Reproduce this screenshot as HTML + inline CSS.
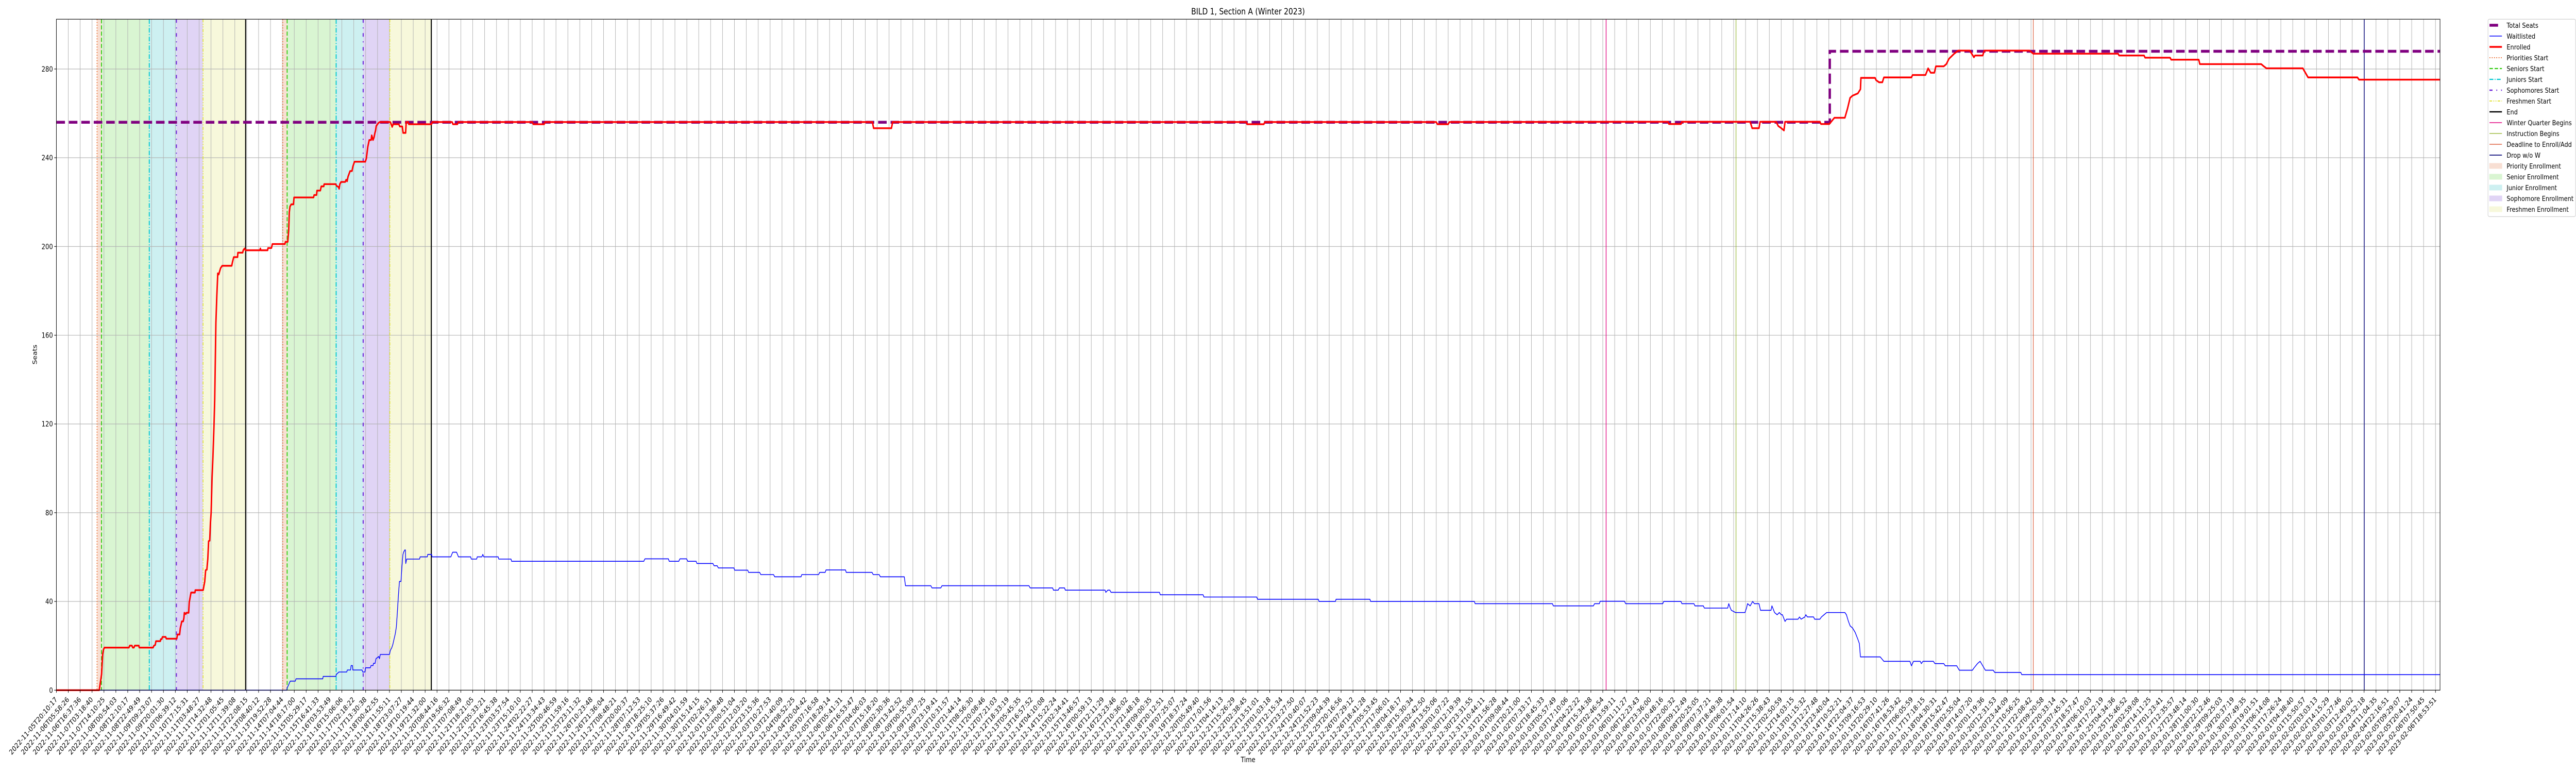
<!DOCTYPE html>
<html><head><meta charset="utf-8"><title>BILD 1, Section A (Winter 2023)</title>
<meta name="viewport" content="width=6000">
<style>
html,body{margin:0;padding:0;background:#fff;overflow:hidden;}
svg{display:block;width:100vw;height:100vh;font-family:"DejaVu Sans","Liberation Sans",sans-serif;overflow:hidden;}
</style></head>
<body>
<svg id="chart" xmlns="http://www.w3.org/2000/svg" viewBox="0 0 6000 1500" preserveAspectRatio="none">
<rect x="0" y="0" width="6000" height="1500" fill="#fff"/>
<g id="shades"></g>
<g id="grid"></g>
<g id="events"></g>
<g id="series"></g>
<g id="axes"></g>
<text x="2907" y="28" text-anchor="middle" font-size="16.7">BILD 1, Section A (Winter 2023)</text>
<text x="2907" y="1479" text-anchor="middle" font-size="13.9">Time</text>
<text transform="translate(86,688) rotate(-90)" text-anchor="middle" font-size="13.9">Seats</text>
<g id="legend"></g>
</svg>
<script>
// ---------- data (x in sample-tick units, y in seats) ----------
const yTicks = [0, 40, 80, 120, 160, 200, 240, 280];
const tickAnchorIdx = [0,1,2,3,4,5,6,7,8,9,10,11,12,13,14,15,16,17,198,199,200];
const tickAnchorLabels = ["2022-11-05T20:10:17","2022-11-06T05:58:26","2022-11-06T16:37:36","2022-11-07T03:18:40","2022-11-07T14:10:25","2022-11-08T00:54:03","2022-11-08T12:10:17","2022-11-08T22:49:49","2022-11-09T09:23:07","2022-11-09T20:01:30","2022-11-10T06:39:12","2022-11-10T17:15:31","2022-11-11T03:48:27","2022-11-11T14:32:48","2022-11-12T01:05:45","2022-11-12T11:39:08","2022-11-12T22:08:15","2022-11-13T08:40:12","2023-02-05T20:41:24","2023-02-06T07:50:45","2023-02-06T18:53:51"];

const seatsX = [0, 149.08, 149.08, 200.4];
const seatsY = [256, 256, 288, 288];

const enrolledX = [0,3.60,3.74,3.80,3.89,3.96,4.04,6.10,6.17,6.35,6.42,6.52,6.59,6.93,6.97,7.17,8.13,8.19,8.31,8.37,8.74,8.77,8.86,8.92,9.19,9.24,10.12,10.18,10.36,10.42,10.48,10.54,10.66,10.72,10.76,10.88,10.93,11.12,11.17,11.26,11.32,11.65,11.68,12.34,12.41,12.47,12.55,12.65,12.73,12.80,12.89,12.95,13.01,13.09,13.16,13.25,13.31,13.41,13.49,13.57,13.65,13.73,13.81,13.94,14.74,14.81,14.91,15.23,15.26,15.66,15.71,15.82,15.90,17.11,17.15,17.18,17.76,17.79,18.08,18.16,19.21,19.26,19.45,19.53,19.58,19.64,19.74,19.93,19.98,21.62,21.67,21.87,21.91,22.19,22.27,22.48,22.51,23.48,23.56,23.72,23.77,23.83,23.93,24.28,24.36,24.44,24.52,24.61,24.69,24.85,24.93,25.06,25.97,26.06,26.18,26.30,26.46,26.51,26.62,26.70,26.78,26.83,26.89,26.99,27.10,27.18,28.07,28.15,28.23,28.31,28.79,28.87,29.08,29.15,29.36,29.41,29.57,29.63,31.53,31.61,33.27,33.34,33.71,33.79,40.0,40.1,41.0,41.1,68.6,68.7,70.2,70.3,100.0,100.1,101.5,101.6,116.0,116.1,117.0,117.1,132.41,135.47,135.56,136.57,136.65,142.39,142.56,143.13,143.22,144.57,144.75,145.01,145.23,145.32,148.25,148.34,149.04,149.47,150.35,150.57,150.79,151.00,151.44,151.66,151.70,152.89,152.97,153.23,153.50,153.63,155.95,156.04,157.13,157.35,157.57,157.87,158.00,158.66,158.88,159.10,159.54,159.88,160.85,161.20,161.29,161.94,162.07,165.88,166.19,173.32,173.40,175.50,175.59,177.69,177.78,180.10,180.19,185.35,185.57,185.79,188.85,189.29,193.44,193.57,200.4];
const enrolledY = [0,0,4.9,7.2,16.1,18.3,19.2,19.2,20.1,20.1,19.2,19.2,20.1,20.1,19.2,19.2,19.2,20.0,20.4,22.1,22.1,23.0,23.0,24.0,24.0,23.2,23.2,25.1,25.1,28.0,29.4,31.0,31.0,32.5,34.9,34.3,34.9,34.9,39.6,42.3,44.0,44.0,45.1,45.1,47.2,48.9,54.1,54.3,59.2,67.2,67.4,75.2,80.0,96.0,104.9,119.2,130.7,165.6,178.0,187.9,187.4,188.9,190.3,191.3,191.3,193.1,195.2,195.2,197.2,197.2,198.3,199.1,198.3,198.3,199.1,198.3,198.3,199.3,199.3,201.1,201.1,202.1,202.1,207.1,215.4,218.0,219.0,219.0,222.1,222.1,223.2,223.2,225.2,225.2,227.1,227.1,228.1,228.1,227.3,226.8,226.0,228.1,229.1,229.1,230.1,229.4,231.5,232.8,234.0,234.0,236.1,238.2,238.2,239.7,244.9,248.0,248.0,250.1,248.0,249.1,251.2,252.2,254.3,255.1,255.8,256.1,256.1,255.1,253.9,255.1,255.1,254.1,254.1,251.2,251.2,256.1,256.1,255.1,255.1,256.1,256.1,255.1,255.1,256.1,256.1,255.1,255.1,256.1,256.1,253.3,253.3,256.1,256.1,255.1,255.1,256.1,256.1,255.1,255.1,256.1,256.2,256.2,255.2,255.2,256.2,256.2,253.3,253.3,256.2,256.2,254.3,253.3,252.3,256.2,256.2,255.2,255.2,258.0,258.0,262.1,267.0,268.0,269.0,270.9,276.0,276.0,275.0,274.0,274.0,276.2,276.2,277.3,277.3,280.3,278.3,278.3,281.2,281.2,282.2,284.6,286.9,288.3,288.3,285.3,286.1,286.1,288.3,288.3,286.9,286.9,286.1,286.1,285.1,285.1,284.2,284.2,282.2,282.2,281.2,280.3,280.3,276.2,276.2,275.2,275.2];

const waitX = [0,19.37,19.41,19.49,19.66,20.09,20.14,22.39,22.43,23.49,23.55,23.76,24.41,24.46,24.73,24.78,24.89,24.92,25.70,25.75,25.94,25.99,26.39,26.45,26.62,26.66,26.79,26.87,27.10,27.16,27.23,28.00,28.08,28.20,28.29,28.39,28.49,28.58,28.65,28.76,28.84,28.97,29.05,29.13,29.19,29.29,29.34,29.37,29.45,30.53,30.58,31.18,31.22,31.55,31.58,33.16,33.24,33.32,33.64,33.72,33.80,34.83,34.88,35.33,35.38,35.77,35.85,35.93,37.14,37.19,38.22,38.27,49.38,49.48,51.45,51.52,52.32,52.42,52.98,53.08,53.78,53.85,55.19,55.29,55.55,55.65,56.96,57.02,58.12,58.19,59.12,59.22,60.29,60.39,62.60,62.66,64.07,64.17,64.63,64.70,66.34,66.40,68.57,68.67,69.17,69.27,71.28,71.38,73.51,73.61,74.35,74.45,81.76,81.86,83.75,83.82,84.22,84.32,84.75,84.82,88.16,88.22,88.39,88.56,88.66,92.73,92.80,96.40,96.47,100.91,100.97,106.08,106.15,107.52,107.58,110.42,110.49,119.20,119.27,125.77,125.84,129.21,129.31,129.71,129.78,131.82,131.92,135.04,135.12,136.57,136.65,137.66,137.75,138.45,138.54,140.50,140.59,140.72,140.81,141.16,141.95,142.08,142.17,142.39,142.60,142.74,143.13,143.26,144.14,144.22,144.44,144.66,144.84,145.01,145.10,145.32,145.45,146.41,146.54,146.67,146.98,147.07,147.20,147.72,147.81,148.25,148.38,148.60,148.82,150.35,150.48,150.65,150.79,151.00,151.22,151.44,151.57,151.66,153.32,153.63,155.82,155.95,156.12,156.69,156.78,156.91,157.79,157.92,158.66,158.79,159.75,159.97,161.07,161.20,161.50,161.72,161.94,162.16,162.82,162.95,165.14,165.22,200.4];
const waitY = [0,0,1.2,2.0,4.1,4.1,5.1,5.1,6.2,6.2,7.2,8.2,8.2,9.1,9.1,11.1,11.1,9.1,9.1,8.2,8.2,10.1,10.1,11.1,11.1,12.1,12.1,14.2,15.2,14.2,16.1,16.1,18.0,19.2,20.7,23.1,25.4,28.5,33.9,43.2,49.0,49.0,55.6,61.0,62.2,63.2,63.2,57.1,59.1,59.1,60.1,60.1,61.2,61.2,60.1,60.1,61.2,62.2,62.2,61.2,60.1,60.1,59.1,59.1,60.1,60.1,61.2,60.1,60.1,59.1,59.1,58.1,58.1,59.2,59.2,58.1,58.1,59.2,59.2,58.1,58.1,57.1,57.1,56.1,56.1,55.1,55.1,54.1,54.1,53.1,53.1,52.1,52.1,51.1,51.1,52.1,52.1,53.1,53.1,54.2,54.2,53.1,53.1,52.1,52.1,51.1,51.1,47.1,47.1,46.1,46.1,47.1,47.1,46.1,46.1,45.1,45.1,46.1,46.1,45.1,45.1,44.1,45.1,45.1,44.1,44.1,43.0,43.0,42.0,42.0,41.0,41.0,40.0,40.0,41.0,41.0,40.0,40.0,39.0,39.0,38.0,38.0,39.0,39.0,40.1,40.1,39,39,40,40,39,39,38,38,37,37,39,37,36,35,35,37,39,38,40,39,39,36,36,38,35,34,35,34,34,31,32,32,33,32,33,34,33,33,32,32,33,34,35,35,34,31,29,28,26,23,21,15,15,13,13,11,13,13,12,13,13,12,12,11,11,9,9,10,12,13,11,9,9,8,8,7,7];

const eventNames = ["Priorities Start","Seniors Start","Juniors Start","Sophomores Start","Freshmen Start","End","Priorities Start","Seniors Start","Juniors Start","Sophomores Start","Freshmen Start","End","Winter Quarter Begins","Instruction Begins","Deadline to Enroll/Add","Drop w/o W"];
const eventX = [3.42,3.79,7.81,10.09,12.33,15.91,19.03,19.40,23.52,25.79,28.03,31.52,130.28,141.20,166.19,194.01];
const shadeStart = [3.42,3.79,7.81,10.09,12.33,19.03,19.40,23.52,25.79,28.03];
const shadeEnd   = [3.79,7.81,10.09,12.33,15.91,19.40,23.52,25.79,28.03,31.52];
const shadeKind  = ["priority","senior","junior","sophomore","freshmen","priority","senior","junior","sophomore","freshmen"];

const SHADE = {priority:"#f8dfd3",senior:"#d9f5d2",junior:"#cdf0f1",sophomore:"#e0d4f5",freshmen:"#f7f8db"};
const EV = {
 "Priorities Start":{c:"#ea6c30",w:2,d:"2,3.3"},
 "Seniors Start":{c:"#33cc11",w:2.2,d:"8,4"},
 "Juniors Start":{c:"#00c8d0",w:2.2,d:"9,3,2,3"},
 "Sophomores Start":{c:"#6a22d8",w:2.4,d:"7,9,2,9"},
 "Freshmen Start":{c:"#e2e43a",w:2,d:"6,3,2,3,2,3"},
 "End":{c:"#000000",w:2.4,d:""},
 "Winter Quarter Begins":{c:"#e2007e",w:1.5,d:""},
 "Instruction Begins":{c:"#8aae1a",w:1.2,d:""},
 "Deadline to Enroll/Add":{c:"#d8441c",w:1.2,d:""},
 "Drop w/o W":{c:"#2b2b8c",w:2,d:""}
};

const NS="http://www.w3.org/2000/svg";
const L=131.3, R=5683.3, T=37.3, B=1339.3, DX=27.707, PY=4.305;
const X = u => L + u*DX;
const Y = v => B - v*PY;
function mk(tag, attrs, parent){const e=document.createElementNS(NS,tag);for(const k in attrs)e.setAttribute(k,attrs[k]);parent.appendChild(e);return e;}

function pad(n){return String(n).padStart(2,"0");}
function fmt(ms){const d=new Date(ms);return d.getUTCFullYear()+"-"+pad(d.getUTCMonth()+1)+"-"+pad(d.getUTCDate())+"T"+pad(d.getUTCHours())+":"+pad(d.getUTCMinutes())+":"+pad(d.getUTCSeconds());}
const tickLabels=[];
(function(){
 const t=tickAnchorLabels.map(s=>Date.parse(s+"Z"));
 for(let i=0;i<=200;i++){
  const k=tickAnchorIdx.indexOf(i);
  if(k>=0){tickLabels.push(tickAnchorLabels[k]);continue;}
  let a=0;while(tickAnchorIdx[a+1]<i)a++;
  const i0=tickAnchorIdx[a],i1=tickAnchorIdx[a+1];
  tickLabels.push(fmt(t[a]+(t[a+1]-t[a])*(i-i0)/(i1-i0)));
 }
})();

const gS=document.getElementById("shades");
for(let i=0;i<shadeStart.length;i++){
 const r=mk("rect",{x:X(shadeStart[i]),y:T,width:X(shadeEnd[i])-X(shadeStart[i]),height:B-T,fill:SHADE[shadeKind[i]]},gS);
 
 
}
const gG=document.getElementById("grid");
for(let i=0;i<tickLabels.length;i++){
 const l=mk("line",{x1:X(i),x2:X(i),y1:T,y2:B,stroke:"#b0b0b0","stroke-width":1.1},gG);
 
 
}
for(const v of yTicks){
 const l=mk("line",{x1:L,x2:R,y1:Y(v),y2:Y(v),stroke:"#b0b0b0","stroke-width":1.1},gG);
 
 
}
const gE=document.getElementById("events");
for(let i=0;i<eventX.length;i++){
 const s=EV[eventNames[i]];
 const l=mk("line",{x1:X(eventX[i]),x2:X(eventX[i]),y1:T,y2:B,stroke:s.c,"stroke-width":s.w},gE);
 if(s.d)l.setAttribute("stroke-dasharray",s.d);
 
 
}
const gD=document.getElementById("series");
function pts(xs,ys){return xs.map((x,i)=>X(x).toFixed(2)+","+Y(ys[i]).toFixed(2)).join(" ");}
const pSeats=mk("polyline",{points:pts(seatsX,seatsY),fill:"none",stroke:"#800080","stroke-width":5.5,"stroke-dasharray":"20,9"},gD);


const pWait=mk("polyline",{points:pts(waitX,waitY),fill:"none",stroke:"#0000ff","stroke-width":1.6,"stroke-linejoin":"round"},gD);


const pEnr=mk("polyline",{points:pts(enrolledX,enrolledY),fill:"none",stroke:"#ff0000","stroke-width":3.4,"stroke-linejoin":"round"},gD);



const gA=document.getElementById("axes");
const frame=mk("rect",{x:L,y:T,width:R-L,height:B-T,fill:"none",stroke:"#000","stroke-width":1.1},gA);


for(const v of yTicks){
 const t=mk("line",{x1:L-4.9,x2:L,y1:Y(v),y2:Y(v),stroke:"#000","stroke-width":1.1},gA);
 
 
 const tx=mk("text",{x:L-8,y:Y(v)+5,"text-anchor":"end","font-size":13.9},gA);
 tx.textContent=String(v);
 
 
}
for(let i=0;i<tickLabels.length;i++){
 const x=X(i);
 const t=mk("line",{x1:x,x2:x,y1:B,y2:B+4.9,stroke:"#000","stroke-width":1.1},gA);
 
 
 const tx=mk("text",{transform:"translate("+(x+3).toFixed(2)+","+(B+19)+") rotate(-45)","text-anchor":"end","font-size":13.9},gA);
 tx.textContent=tickLabels[i];
 
 
}

const legendNames=["Total Seats","Waitlisted","Enrolled","Priorities Start","Seniors Start","Juniors Start","Sophomores Start","Freshmen Start","End","Winter Quarter Begins","Instruction Begins","Deadline to Enroll/Add","Drop w/o W","Priority Enrollment","Senior Enrollment","Junior Enrollment","Sophomore Enrollment","Freshmen Enrollment"];
const gL=document.getElementById("legend");
const box=mk("rect",{x:5795,y:37.3,width:204,height:383,rx:3,fill:"#fff","fill-opacity":0.8,stroke:"#cccccc","stroke-width":1.1},gL);


const patchKinds={"Priority Enrollment":"priority","Senior Enrollment":"senior","Junior Enrollment":"junior","Sophomore Enrollment":"sophomore","Freshmen Enrollment":"freshmen"};
for(let i=0;i<legendNames.length;i++){
 const n=legendNames[i], cy=49+i*21;
 const g=mk("g",{},gL);
 
 
 if(patchKinds[n]){
  mk("rect",{x:5798.5,y:cy-5,width:29,height:10,fill:SHADE[patchKinds[n]],stroke:SHADE[patchKinds[n]]},g);
 } else if(n==="Total Seats"){
  mk("line",{x1:5798.5,x2:5827.5,y1:cy,y2:cy,stroke:"#800080","stroke-width":5.5,"stroke-dasharray":"20,9"},g);
 } else if(n==="Waitlisted"){
  mk("line",{x1:5798.5,x2:5827.5,y1:cy,y2:cy,stroke:"#0000ff","stroke-width":1.6},g);
 } else if(n==="Enrolled"){
  mk("line",{x1:5798.5,x2:5827.5,y1:cy,y2:cy,stroke:"#ff0000","stroke-width":3.4},g);
 } else {
  const s=EV[n];
  const l=mk("line",{x1:5798.5,x2:5827.5,y1:cy,y2:cy,stroke:s.c,"stroke-width":s.w},g);
  if(s.d)l.setAttribute("stroke-dasharray",s.d);
 }
 const tx=mk("text",{x:5838.5,y:cy+5,"font-size":13.6},g);
 tx.textContent=n;
}
</script>
</body></html>
